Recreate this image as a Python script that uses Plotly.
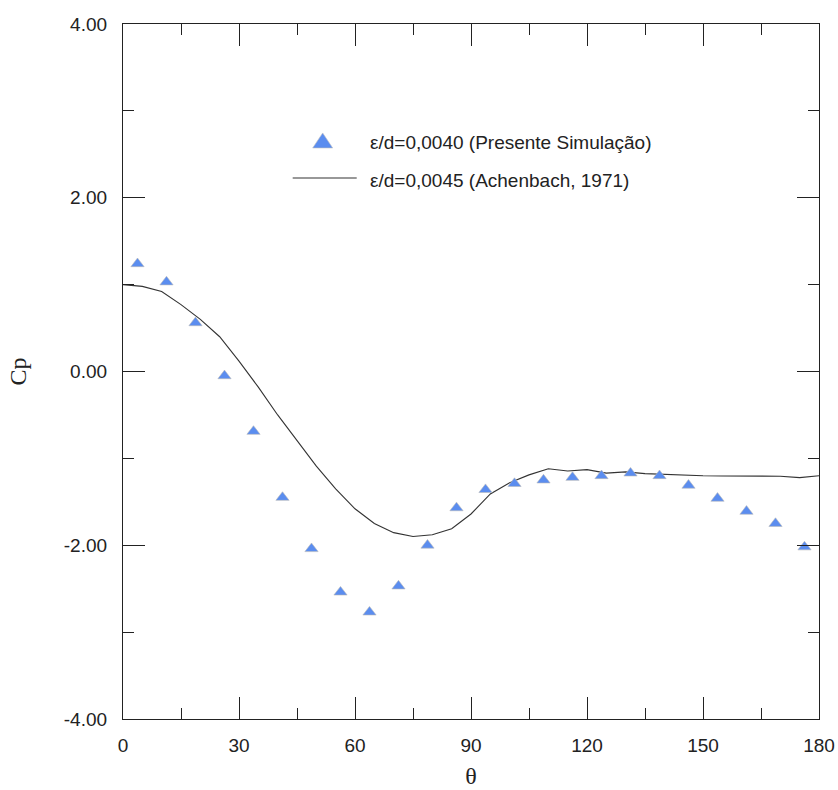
import plotly.graph_objects as go

# Pressure coefficient around a rough cylinder
theta_sim = [3.75, 11.25, 18.75, 26.25, 33.75, 41.25, 48.75, 56.25, 63.75, 71.25,
             78.75, 86.25, 93.75, 101.25, 108.75, 116.25, 123.75, 131.25, 138.75,
             146.25, 153.75, 161.25, 168.75, 176.25]
cp_sim = [1.24, 1.03, 0.56, -0.05, -0.69, -1.45, -2.04, -2.54, -2.77, -2.47,
          -2.00, -1.57, -1.36, -1.29, -1.25, -1.22, -1.20, -1.17, -1.20,
          -1.31, -1.46, -1.61, -1.75, -2.02]

theta_exp = [0, 5, 10, 15, 20, 25, 30, 35, 40, 45, 50, 55, 60, 65, 70, 75, 80, 85,
             90, 95, 100, 105, 110, 115, 120, 125, 130, 135, 140, 145, 150, 155,
             160, 165, 170, 175, 180]
cp_exp = [1.00, 0.98, 0.92, 0.77, 0.60, 0.40, 0.12, -0.18, -0.50, -0.80, -1.09,
          -1.35, -1.58, -1.75, -1.855, -1.90, -1.88, -1.81, -1.64, -1.41, -1.28,
          -1.19, -1.12, -1.145, -1.13, -1.17, -1.155, -1.175, -1.185, -1.19, -1.20,
          -1.203, -1.203, -1.203, -1.205, -1.222, -1.20]

x_ticks = [0, 30, 60, 90, 120, 150, 180]
y_ticks = [-4, -2, 0, 2, 4]
y_tick_text = ["-4.00", "-2.00", "0.00", "2.00", "4.00"]

label_sim = "ε/d=0,0040 (Presente Simulação)"
label_exp = "ε/d=0,0045 (Achenbach, 1971)"

MARKER_BLUE = "#5b8def"
AXIS = "#222222"

fig = go.Figure()
fig.add_trace(go.Scatter(
    x=theta_exp, y=cp_exp, mode="lines", name=label_exp,
    line=dict(color="#333333", width=1.1), showlegend=False,
))
fig.add_trace(go.Scatter(
    x=theta_sim, y=cp_sim, mode="markers", name=label_sim,
    marker=dict(symbol="triangle-up", size=11.5, color=MARKER_BLUE,
                line=dict(color="#b8b8b8", width=0.6)),
    showlegend=False,
))

# Hand-drawn legend in paper coordinates
leg_x_text = 0.3516
fig.add_shape(type="path", xref="paper", yref="paper",
              xsizemode="pixel", ysizemode="pixel",
              xanchor=0.2869, yanchor=0.8317,
              path="M -10,-7 L 10,-7 L 0,8 Z",
              fillcolor=MARKER_BLUE, line=dict(color="#c0c0c0", width=0.6))
fig.add_shape(type="line", xref="paper", yref="paper",
              x0=0.2438, x1=0.3358, y0=0.7784, y1=0.7784,
              line=dict(color="#333333", width=1.1))
for txt, yy in [(label_sim, 0.8288), (label_exp, 0.7755)]:
    fig.add_annotation(text=txt, xref="paper", yref="paper", x=leg_x_text, y=yy,
                       xanchor="left", yanchor="middle", showarrow=False,
                       font=dict(family="Liberation Sans, Arial", size=19, color="#222222"))

axis_common = dict(
    showline=True, linecolor=AXIS, linewidth=1.2, mirror="ticks",
    ticks="inside", ticklen=22, tickwidth=1.2, tickcolor=AXIS,
    showgrid=False, zeroline=False, automargin=False,
    tickfont=dict(family="Liberation Sans, Arial", size=19, color="#222222"),
)

fig.update_xaxes(
    **axis_common, range=[0, 180], tickvals=x_ticks,
    minor=dict(ticks="inside", ticklen=11, tickwidth=1.2, tickcolor=AXIS,
               tick0=0, dtick=15, showgrid=False),
    ticklabelstandoff=9,
    title=dict(text="θ", font=dict(family="Liberation Serif, Times New Roman", size=24,
                                   color="#222222"), standoff=12),
)
fig.update_yaxes(
    **axis_common, range=[-4, 4], tickvals=y_ticks, ticktext=y_tick_text,
    minor=dict(ticks="inside", ticklen=11, tickwidth=1.2, tickcolor=AXIS,
               tick0=-4, dtick=1, showgrid=False),
    ticklabelstandoff=11,
    title=dict(text="Cp", font=dict(family="Liberation Serif, Times New Roman", size=24,
                                    color="#222222"), standoff=30),
)

fig.update_layout(
    width=838, height=790,
    margin=dict(l=123, r=19, t=24, b=71),
    plot_bgcolor="white", paper_bgcolor="white",
    showlegend=False,
)

fig.write_html("out.html")
